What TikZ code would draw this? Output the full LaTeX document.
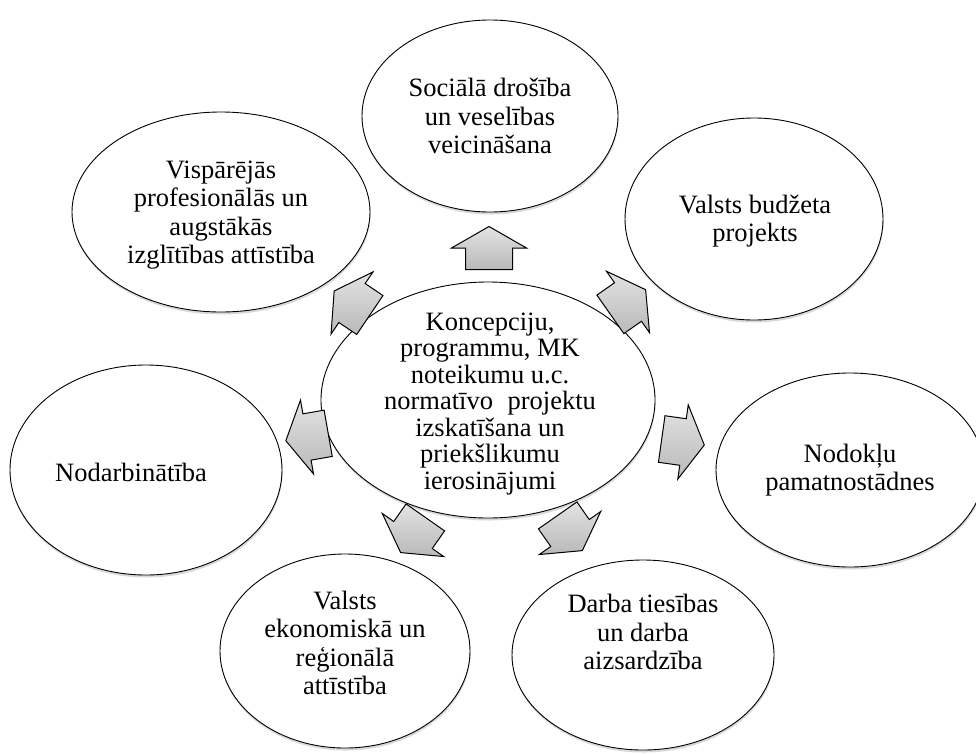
\documentclass[tikz,border=0pt]{standalone}
\usepackage{fontspec}
\setmainfont{Liberation Serif}
\usetikzlibrary{shapes.geometric,shadows}
\begin{document}
\begin{tikzpicture}[x=1pt,y=-1pt,
  elli/.style={ellipse, draw=black, line width=0.9pt, fill=white, inner sep=0pt,
    drop shadow={shadow xshift=0.5pt, shadow yshift=-2.5pt, fill=gray!30, opacity=1}},
  txt/.style={align=center, font=\fontsize{26.5}{28.5}\selectfont, inner sep=0pt},
  ctxt/.style={align=center, font=\fontsize{26.5}{26.5}\selectfont, inner sep=0pt},
  arrowfill/.style={draw=black, line width=1pt, line join=miter,
    top color=gray!22, bottom color=gray!55},
  blockarr/.pic={\path[arrowfill] (-21.5,-23.5) -- (0,-23.5) -- (0,-37.5) -- (21.5,0)
      -- (0,37.5) -- (0,23.5) -- (-21.5,23.5) -- cycle;}]
\useasboundingbox (0,0) rectangle (976,753);

% ellipses
\node[elli, minimum width=256pt, minimum height=192pt] (soc) at (490,116) {};
\node[elli, minimum width=298pt, minimum height=200pt] (vis) at (221,212) {};
\node[elli, minimum width=258pt, minimum height=202pt] (vbp) at (754,219) {};
\node[elli, minimum width=272pt, minimum height=210pt] (nod) at (146,470) {};
\node[elli, minimum width=268pt, minimum height=194pt] (nok) at (850,470) {};
\node[elli, minimum width=250pt, minimum height=194pt] (vek) at (345,651) {};
\node[elli, minimum width=262pt, minimum height=190pt] (dar) at (643,655) {};
\node[elli, minimum width=334pt, minimum height=236pt] (cen) at (488,400) {};

% texts
\node[txt] (soct) at (490,116) {Sociālā drošība\\un veselības\\veicināšana};
\node[txt] (vist) at (221,215) {Vispārējās\\profesionālās un\\augstākās\\izglītības attīstība};
\node[txt] (vbpt) at (755,221) {Valsts budžeta\\projekts};
\node[txt] (nodt) at (131,472) {Nodarbinātība};
\node[txt] (nokt) at (850,470) {Nodokļu\\pamatnostādnes};
\node[txt] (vekt) at (345,643) {Valsts\\ekonomiskā un\\reģionālā\\attīstība};
\node[txt] (dart) at (643,632) {Darba tiesības\\un darba\\aizsardzība};
\node[ctxt] (cent) at (490,404) {Koncepciju,\\programmu, MK\\noteikumu u.c.\\normatīvo\hspace{0.55em}projektu\\izskatīšana un\\priekšlikumu\\ierosinājumi};

% block arrows
\pic[rotate=90]  at (489,248) {blockarr};
\pic[rotate=35]  at (628,302) {blockarr};
\pic[rotate=-8]  at (683,442) {blockarr};
\pic[rotate=-55] at (570,533) {blockarr};
\pic[rotate=-125] at (413,535) {blockarr};
\pic[rotate=190] at (307,437) {blockarr};
\pic[rotate=146] at (352,303) {blockarr};
\end{tikzpicture}
\end{document}
